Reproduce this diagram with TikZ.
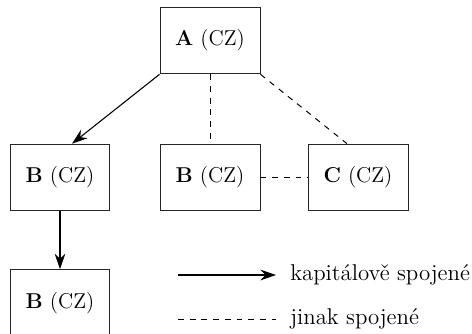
\documentclass[tikz,border=0pt]{standalone}
\usepackage{tikz}
\usetikzlibrary{arrows.meta, positioning, calc}

\begin{document}
\begin{tikzpicture} [
    x=0.018cm, y=-0.018cm,
    company/.style={rectangle, draw=black!85, line width=0.5pt, minimum width=1.8cm, minimum height=1.2cm, font=\fontsize{11}{13}\selectfont, text centered},
    legend/.style={font=\fontsize{11.7}{14}\selectfont, anchor=west, inner sep=2pt},
    arrow/.style={-{Stealth[length=8pt, width=5.5pt]}, line width=0.55pt},
    link/.style={dashed, line width=0.5pt}
]
\useasboundingbox (0,0) rectangle (472,333);

% LAYER 1: companies
\node[company] (a_cz) at (210,40.5) {\textbf{A} (CZ)};
\node[company] (b_cz_left) at (60,177.5) {\textbf{B} (CZ)};
\node[company] (b_cz_mid) at (210,177.5) {\textbf{B} (CZ)};
\node[company] (c_cz) at (358,177.5) {\textbf{C} (CZ)};
\node[company] (b_cz_low) at (60,303) {\textbf{B} (CZ)};

% LAYER 2: connections
\draw[arrow] (a_cz.south west) -- ($(b_cz_left.north)+(12,0)$);
\draw[arrow] (b_cz_left) -- (b_cz_low);
\draw[link] (a_cz.south) -- (b_cz_mid.north);
\draw[link] (a_cz.south east) -- ($(c_cz.north)+(-11,0)$);
\draw[link] (b_cz_mid) -- (c_cz);

% LAYER 3: legend
\coordinate (key_solid) at (178,275);
\coordinate (key_dashed) at (178,319);
\node[legend] (kapital) at (286,275) {kapitálově spojené};
\node[legend] (jinak) at (286,319) {jinak spojené};
\draw[arrow] (key_solid) -- ($(kapital.west)+(-10,0)$);
\draw[link] (key_dashed) -- ($(jinak.west)+(-10,0)$);

\end{tikzpicture}
\end{document}
